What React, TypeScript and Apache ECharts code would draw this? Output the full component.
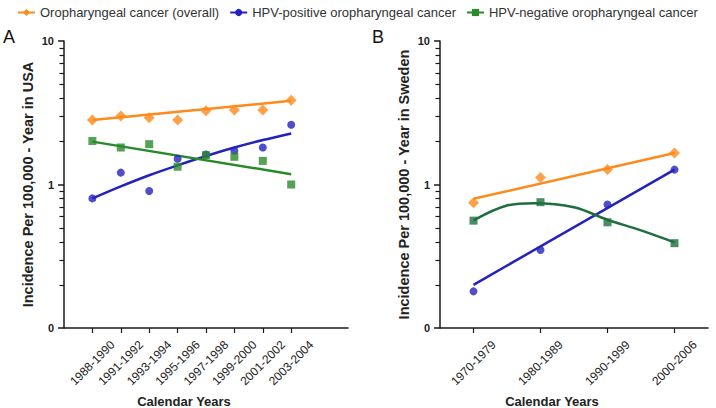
import React, { useEffect, useRef } from "react";
import * as echarts from "echarts";

// ---------- Data ----------
const seriesNames = [
  "Oropharyngeal cancer (overall)",
  "HPV-positive oropharyngeal cancer",
  "HPV-negative oropharyngeal cancer",
];

// Panel A (USA)
const catsA = [
  "1988-1990",
  "1991-1992",
  "1993-1994",
  "1995-1996",
  "1997-1998",
  "1999-2000",
  "2001-2002",
  "2003-2004",
];
const overallA = [2.82, 3.0, 2.92, 2.82, 3.26, 3.31, 3.31, 3.87];
const hpvPosA = [0.8, 1.21, 0.9, 1.51, 1.62, 1.72, 1.81, 2.61];
const hpvNegA = [2.01, 1.81, 1.91, 1.33, 1.6, 1.56, 1.46, 1.0];
// fitted lines: [position, value]
const overallFitA: [number, number][] = [[1, 2.82], [8, 3.83]];
const hpvPosFitA: [number, number][] = [
  [1, 0.8], [2, 0.97], [3, 1.16], [4, 1.36], [5, 1.58], [6, 1.81], [7, 2.04], [8, 2.27],
];
const hpvNegFitA: [number, number][] = [[1, 1.99], [8, 1.18]];

// Panel B (Sweden)
const catsB = ["1970-1979", "1980-1989", "1990-1999", "2000-2006"];
const overallB = [0.746, 1.12, 1.27, 1.66];
const hpvPosB = [0.18, 0.35, 0.726, 1.27];
const hpvNegB = [0.56, 0.753, 0.545, 0.39];
const overallFitB: [number, number][] = [[0, 0.795], [3, 1.66]];
const hpvPosFitB: [number, number][] = [[0, 0.2], [3, 1.27]];
const hpvNegFitB: [number, number][] = [
  [0, 0.562], [0.5, 0.714], [0.9, 0.741], [1.5, 0.695], [2, 0.568], [2.5, 0.479], [3, 0.395],
];

const minorTickValues = [0.2, 0.3, 0.4, 0.5, 0.6, 0.7, 0.8, 0.9, 2, 3, 4, 5, 6, 7, 8, 9];

// ---------- Styles ----------
const FONT = "'Liberation Sans', Arial, sans-serif";
const ORANGE = "#ff8a1c";
const BLUE = "#2323bb";
const GREEN_A = "#2a8a2a";
const GREEN_B = "#1e6e3e";
const AXIS = "#1a1a1a";

export default function App() {
  const ref = useRef<HTMLDivElement>(null);

  useEffect(() => {
    if (!ref.current) return;
    const chart = echarts.init(ref.current, undefined, { renderer: "svg" });

    const padA = ["", ...catsA, "", ""];

    const yAxisBase = (gridIndex: number, name: string) => ({
      type: "log",
      logBase: 10,
      min: 0.1,
      max: 10,
      gridIndex,
      name,
      nameLocation: "middle",
      nameGap: 29,
      nameMoveOverlap: false,
      nameTextStyle: { fontFamily: FONT, fontWeight: "bold", fontSize: 14.5, color: "#222" },
      axisLine: { show: true, onZero: false, lineStyle: { color: AXIS, width: 1.5 } },
      axisTick: { show: true, length: 6, lineStyle: { color: AXIS, width: 1.5 } },
      axisLabel: {
        fontFamily: FONT,
        fontWeight: "bold",
        fontSize: 11,
        color: "#222",
        margin: 10,
        formatter: (v: number) => (v < 1 ? "0" : String(Math.round(v))),
      },
      splitLine: { show: false },
      minorTick: { show: false },
    });

    const catAxisCommon = {
      type: "category",
      axisLine: { show: true, onZero: false, lineStyle: { color: AXIS, width: 1.5 } },
      axisLabel: {
        fontFamily: FONT,
        fontSize: 12,
        color: "#222",
        rotate: 45,
        align: "center",
        verticalAlign: "middle",
        margin: 35,
        hideOverlap: false,
      },
      name: "Calendar Years",
      nameLocation: "middle",
      nameGap: 67,
      nameMoveOverlap: false,
      nameTextStyle: {
        fontFamily: FONT,
        fontWeight: "bold",
        fontSize: 13,
        color: "#222",
        padding: [0, 44, 0, 0],
      },
      splitLine: { show: false },
    };

    const scatter = (
      name: string,
      xAxisIndex: number,
      yAxisIndex: number,
      cats: string[],
      vals: number[],
      symbol: string,
      size: number,
      color: string
    ) => ({
      type: "scatter",
      name,
      xAxisIndex,
      yAxisIndex,
      symbol,
      symbolSize: size,
      itemStyle: { color },
      z: 3,
      data: cats.map((c, i) => [c, vals[i]]),
    });

    const fit = (
      name: string,
      xAxisIndex: number,
      yAxisIndex: number,
      data: [number, number][],
      symbol: string,
      color: string,
      smooth: boolean | number
    ) => ({
      type: "line",
      name,
      xAxisIndex,
      yAxisIndex,
      symbol,
      showSymbol: false,
      smooth,
      lineStyle: { color, width: 2.5 },
      itemStyle: { color },
      z: 2,
      data,
    });

    const panelLabels = [
      { type: "text", left: 3, top: 28, style: { text: "A", fontSize: 18, fontFamily: FONT, fill: "#111" } },
      { type: "text", left: 372, top: 28, style: { text: "B", fontSize: 18, fontFamily: FONT, fill: "#111" } },
    ];

    const option: any = {
      animation: false,
      backgroundColor: "#ffffff",
      textStyle: { fontFamily: FONT },
      legend: {
        top: 1,
        left: 12,
        itemWidth: 17,
        itemHeight: 9,
        itemGap: 10,
        textStyle: { fontFamily: FONT, fontSize: 13, color: "#333" },
        data: seriesNames,
        selectedMode: false,
      },
      grid: [
        { left: 64, top: 41, width: 284, height: 287, outerBoundsMode: "none", containLabel: false },
        { left: 440, top: 41, width: 268, height: 287, outerBoundsMode: "none", containLabel: false },
      ],
      xAxis: [
        {
          ...catAxisCommon,
          gridIndex: 0,
          data: padA,
          boundaryGap: false,
          axisTick: {
            show: true,
            length: 5,
            interval: (_i: number, v: string) => v !== "",
            lineStyle: { color: AXIS, width: 1.2 },
          },
          axisLabel: {
            ...catAxisCommon.axisLabel,
            interval: (_i: number, v: string) => v !== "",
          },
        },
        {
          ...catAxisCommon,
          gridIndex: 1,
          data: catsB,
          boundaryGap: true,
          axisTick: {
            show: true,
            length: 5,
            alignWithLabel: true,
            lineStyle: { color: AXIS, width: 1.2 },
          },
        },
        { type: "value", gridIndex: 0, min: 0, max: 10, show: false },
        { type: "value", gridIndex: 1, min: -0.5, max: 3.5, show: false },
      ],
      yAxis: [
        yAxisBase(0, "Incidence Per 100,000 - Year in USA"),
        yAxisBase(1, "Incidence Per 100,000 - Year in Sweden"),
      ],
      graphic: panelLabels,
      series: [
        // Fits panel A (first, so legend icons come from them)
        fit(seriesNames[0], 2, 0, overallFitA, "diamond", ORANGE, false),
        fit(seriesNames[1], 2, 0, hpvPosFitA, "circle", BLUE, 0.3),
        fit(seriesNames[2], 2, 0, hpvNegFitA, "rect", GREEN_A, false),
        // Markers panel A
        scatter(seriesNames[0], 0, 0, catsA, overallA, "diamond", 11, ORANGE),
        scatter(seriesNames[1], 0, 0, catsA, hpvPosA, "circle", 8, BLUE),
        scatter(seriesNames[2], 0, 0, catsA, hpvNegA, "rect", 8, GREEN_A),
        // Fits panel B
        fit(seriesNames[0], 3, 1, overallFitB, "diamond", ORANGE, false),
        fit(seriesNames[1], 3, 1, hpvPosFitB, "circle", BLUE, false),
        fit(seriesNames[2], 3, 1, hpvNegFitB, "rect", GREEN_B, 0.35),
        // Markers panel B
        scatter(seriesNames[0], 1, 1, catsB, overallB, "diamond", 11, ORANGE),
        scatter(seriesNames[1], 1, 1, catsB, hpvPosB, "circle", 8, BLUE),
        scatter(seriesNames[2], 1, 1, catsB, hpvNegB, "rect", 8, GREEN_B),
      ],
    };

    chart.setOption(option);

    // minor ticks of the log axes, positioned through the chart's own scales
    const minorTicks: any[] = [];
    const panels = [
      { gridIndex: 0, xAxisIndex: 2, yAxisIndex: 0, xMin: 0 },
      { gridIndex: 1, xAxisIndex: 3, yAxisIndex: 1, xMin: -0.5 },
    ];
    panels.forEach((p) => {
      minorTickValues.forEach((v) => {
        let pt: any = chart.convertToPixel({ xAxisIndex: p.xAxisIndex, yAxisIndex: p.yAxisIndex } as any, [p.xMin, v]);
        if (!pt || isNaN(pt[0]) || isNaN(pt[1])) {
          pt = chart.convertToPixel({ gridIndex: p.gridIndex } as any, [p.xMin, v]);
        }
        if (!pt || isNaN(pt[0]) || isNaN(pt[1])) return;
        const y = Math.round(pt[1]) + 0.5;
        minorTicks.push({
          type: "line",
          silent: true,
          z: 100,
          shape: { x1: pt[0] - 4.5, y1: y, x2: pt[0], y2: y },
          style: { stroke: AXIS, lineWidth: 1.2 },
        });
      });
    });
    chart.setOption({ graphic: [...panelLabels, ...minorTicks] }, { replaceMerge: ["graphic"] });

    return () => chart.dispose();
  }, []);

  return (
    <div
      ref={ref}
      style={{ position: "fixed", left: 0, top: 0, width: 716, height: 408, background: "#fff" }}
    />
  );
}
